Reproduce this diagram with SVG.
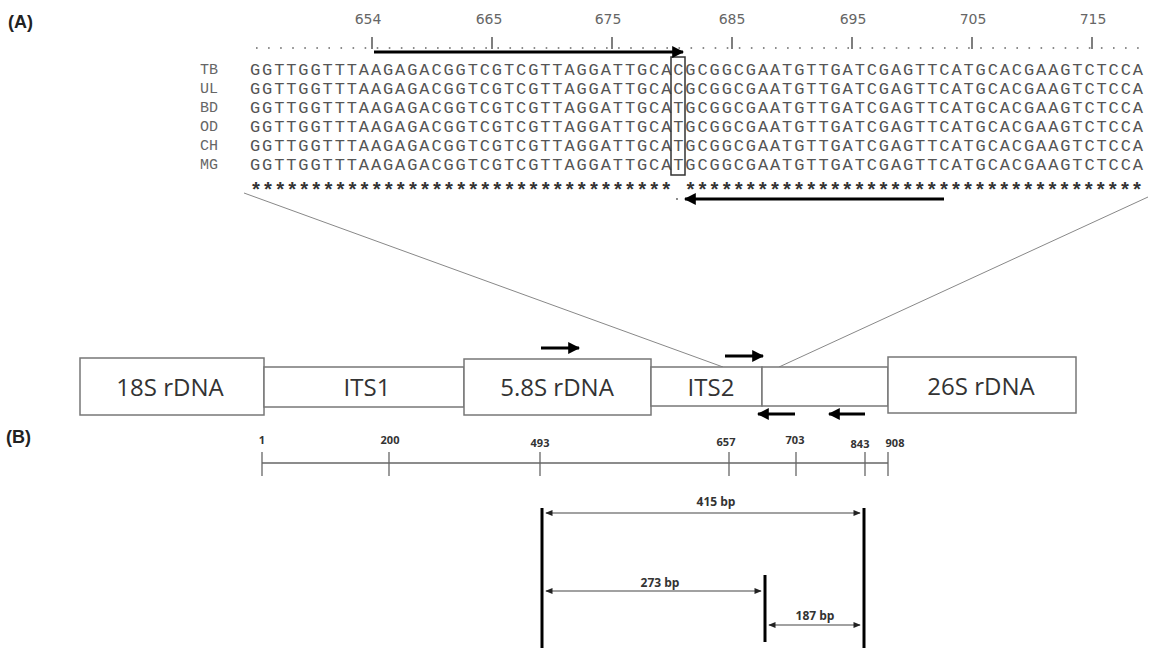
<svg xmlns="http://www.w3.org/2000/svg" width="1152" height="648" viewBox="0 0 1152 648">
<style>
.panel{font-family:"Liberation Sans",Arial,sans-serif;font-weight:bold;font-size:18px;fill:#222}
.num{font-family:"DejaVu Sans",sans-serif;font-size:14px;fill:#666;text-anchor:middle}
.lab{font-family:"Liberation Mono","Courier New",monospace;font-size:15px;fill:#666}
.seq{font-family:"Liberation Mono","Courier New",monospace;font-size:17px;fill:#555}
.ast{font-family:"Liberation Mono","Courier New",monospace;font-size:20px;font-weight:bold;fill:#333}
.box{fill:#fff;stroke:#777;stroke-width:1.5}
.blab{font-family:"Open Sans","Liberation Sans",sans-serif;font-size:24px;fill:#333;text-anchor:middle}
.scl{font-family:"Open Sans","Liberation Sans",sans-serif;font-size:11px;font-weight:bold;fill:#333;text-anchor:middle}
.bp{font-family:"Open Sans","Liberation Sans",sans-serif;font-size:12px;font-weight:bold;fill:#333;text-anchor:middle}
.tick{stroke:#555;stroke-width:1.5}
.thin{stroke:#888;stroke-width:1;fill:none}
.primer{stroke:#000;stroke-width:3;fill:none}
.bar{stroke:#000;stroke-width:3}
.dim{stroke:#444;stroke-width:1.2;fill:none}
</style>
<defs>
<marker id="ah" viewBox="0 0 10 10" refX="9" refY="5" markerWidth="4" markerHeight="4" orient="auto" markerUnits="strokeWidth">
<path d="M0,0 L10,5 L0,10 z" fill="#000"/>
</marker>
<marker id="ahs" viewBox="0 0 10 10" refX="9" refY="5" markerWidth="7" markerHeight="6" orient="auto-start-reverse" markerUnits="strokeWidth">
<path d="M0,1 L10,5 L0,9 z" fill="#222"/>
</marker>
</defs>
<rect width="1152" height="648" fill="#fff"/>

<text class="panel" x="8" y="28">(A)</text>
<text class="panel" x="6" y="443">(B)</text>

<g id="alignment">
<g id="ruler">
<text class="num" x="368" y="24">654</text>
<text class="num" x="489" y="24">665</text>
<text class="num" x="608" y="24">675</text>
<text class="num" x="732" y="24">685</text>
<text class="num" x="853" y="24">695</text>
<text class="num" x="973" y="24">705</text>
<text class="num" x="1093" y="24">715</text>
<line x1="256" y1="48" x2="1140" y2="48" stroke="#666" stroke-width="1.6" stroke-dasharray="1.6 10.47"/>
<line class="tick" x1="372" y1="37" x2="372" y2="49"/>
<line class="tick" x1="492" y1="37" x2="492" y2="49"/>
<line class="tick" x1="612" y1="37" x2="612" y2="49"/>
<line class="tick" x1="732" y1="37" x2="732" y2="49"/>
<line class="tick" x1="852" y1="37" x2="852" y2="49"/>
<line class="tick" x1="972" y1="37" x2="972" y2="49"/>
<line class="tick" x1="1092" y1="37" x2="1092" y2="49"/>
</g>
<g id="rows">
<text class="lab" x="200" y="74">TB</text>
<text class="seq" x="250" y="75" textLength="893" lengthAdjust="spacing">GGTTGGTTTAAGAGACGGTCGTCGTTAGGATTGCACGCGGCGAATGTTGATCGAGTTCATGCACGAAGTCTCCA</text>
<text class="lab" x="200" y="93">UL</text>
<text class="seq" x="250" y="94" textLength="893" lengthAdjust="spacing">GGTTGGTTTAAGAGACGGTCGTCGTTAGGATTGCACGCGGCGAATGTTGATCGAGTTCATGCACGAAGTCTCCA</text>
<text class="lab" x="200" y="112">BD</text>
<text class="seq" x="250" y="113" textLength="893" lengthAdjust="spacing">GGTTGGTTTAAGAGACGGTCGTCGTTAGGATTGCATGCGGCGAATGTTGATCGAGTTCATGCACGAAGTCTCCA</text>
<text class="lab" x="200" y="131">OD</text>
<text class="seq" x="250" y="132" textLength="893" lengthAdjust="spacing">GGTTGGTTTAAGAGACGGTCGTCGTTAGGATTGCATGCGGCGAATGTTGATCGAGTTCATGCACGAAGTCTCCA</text>
<text class="lab" x="200" y="150">CH</text>
<text class="seq" x="250" y="151" textLength="893" lengthAdjust="spacing">GGTTGGTTTAAGAGACGGTCGTCGTTAGGATTGCATGCGGCGAATGTTGATCGAGTTCATGCACGAAGTCTCCA</text>
<text class="lab" x="200" y="169">MG</text>
<text class="seq" x="250" y="170" textLength="893" lengthAdjust="spacing">GGTTGGTTTAAGAGACGGTCGTCGTTAGGATTGCATGCGGCGAATGTTGATCGAGTTCATGCACGAAGTCTCCA</text>
<text class="ast" x="250" y="197" textLength="893" lengthAdjust="spacing" xml:space="preserve">*********************************** **************************************</text>
<circle cx="677" cy="199" r="0.9" fill="#555"/>
</g>
<rect id="snp-box" x="671" y="57" width="14" height="118" fill="none" stroke="#333" stroke-width="1.5"/>
<g id="seq-primers">
<line class="primer" x1="374" y1="52" x2="683" y2="52" marker-end="url(#ah)"/>
<line class="primer" x1="944" y1="199" x2="685" y2="199" marker-end="url(#ah)"/>
</g>
</g>

<g id="connectors">
<line class="thin" x1="244" y1="193" x2="723" y2="367"/>
<line class="thin" x1="1148" y1="197" x2="779" y2="367"/>
</g>

<g id="n18S"><rect class="box" x="80" y="358" width="184" height="57"/><text class="blab" x="170" y="396">18S rDNA</text></g>
<g id="nITS1"><rect class="box" x="264" y="367" width="200" height="40"/><text class="blab" x="367" y="396">ITS1</text></g>
<g id="n58S"><rect class="box" x="464" y="359" width="187" height="56"/><text class="blab" x="557" y="396">5.8S rDNA</text></g>
<g id="nITS2"><rect class="box" x="651" y="367" width="111" height="39"/><text class="blab" x="711" y="396">ITS2</text></g>
<g id="nSpacer"><rect class="box" x="762" y="367" width="126" height="39"/></g>
<g id="n26S"><rect class="box" x="888" y="357" width="188" height="56"/><text class="blab" x="981" y="395">26S rDNA</text></g>

<g id="primers">
<line class="primer" x1="541" y1="348" x2="579" y2="348" marker-end="url(#ah)"/>
<line class="primer" x1="725" y1="356" x2="763" y2="356" marker-end="url(#ah)"/>
<line class="primer" x1="795" y1="414" x2="758" y2="414" marker-end="url(#ah)"/>
<line class="primer" x1="865" y1="414" x2="829" y2="414" marker-end="url(#ah)"/>
</g>

<g id="scale">
<line x1="262" y1="463" x2="888" y2="463" stroke="#666" stroke-width="1.3"/>
<g stroke="#666" stroke-width="1.3">
<line x1="262" y1="452" x2="262" y2="476"/>
<line x1="389" y1="452" x2="389" y2="476"/>
<line x1="540" y1="452" x2="540" y2="476"/>
<line x1="729" y1="452" x2="729" y2="476"/>
<line x1="796" y1="452" x2="796" y2="476"/>
<line x1="865" y1="452" x2="865" y2="476"/>
<line x1="888" y1="452" x2="888" y2="476"/>
</g>
<text class="scl" x="262" y="444">1</text>
<text class="scl" x="390" y="444">200</text>
<text class="scl" x="540" y="447">493</text>
<text class="scl" x="726" y="446">657</text>
<text class="scl" x="795" y="444">703</text>
<text class="scl" x="860" y="448">843</text>
<text class="scl" x="895" y="447">908</text>
</g>

<g id="products">
<line class="bar" x1="542" y1="508" x2="542" y2="648"/>
<line class="bar" x1="864" y1="508" x2="864" y2="648"/>
<line class="bar" x1="765" y1="575" x2="765" y2="642"/>
<line class="dim" x1="546" y1="513" x2="860" y2="513" marker-start="url(#ahs)" marker-end="url(#ahs)"/>
<text class="bp" x="716" y="506">415 bp</text>
<line class="dim" x1="546" y1="591" x2="761" y2="591" marker-start="url(#ahs)" marker-end="url(#ahs)"/>
<text class="bp" x="660" y="587">273 bp</text>
<line class="dim" x1="769" y1="625" x2="860" y2="625" marker-start="url(#ahs)" marker-end="url(#ahs)"/>
<text class="bp" x="815" y="620">187 bp</text>
</g>
</svg>
